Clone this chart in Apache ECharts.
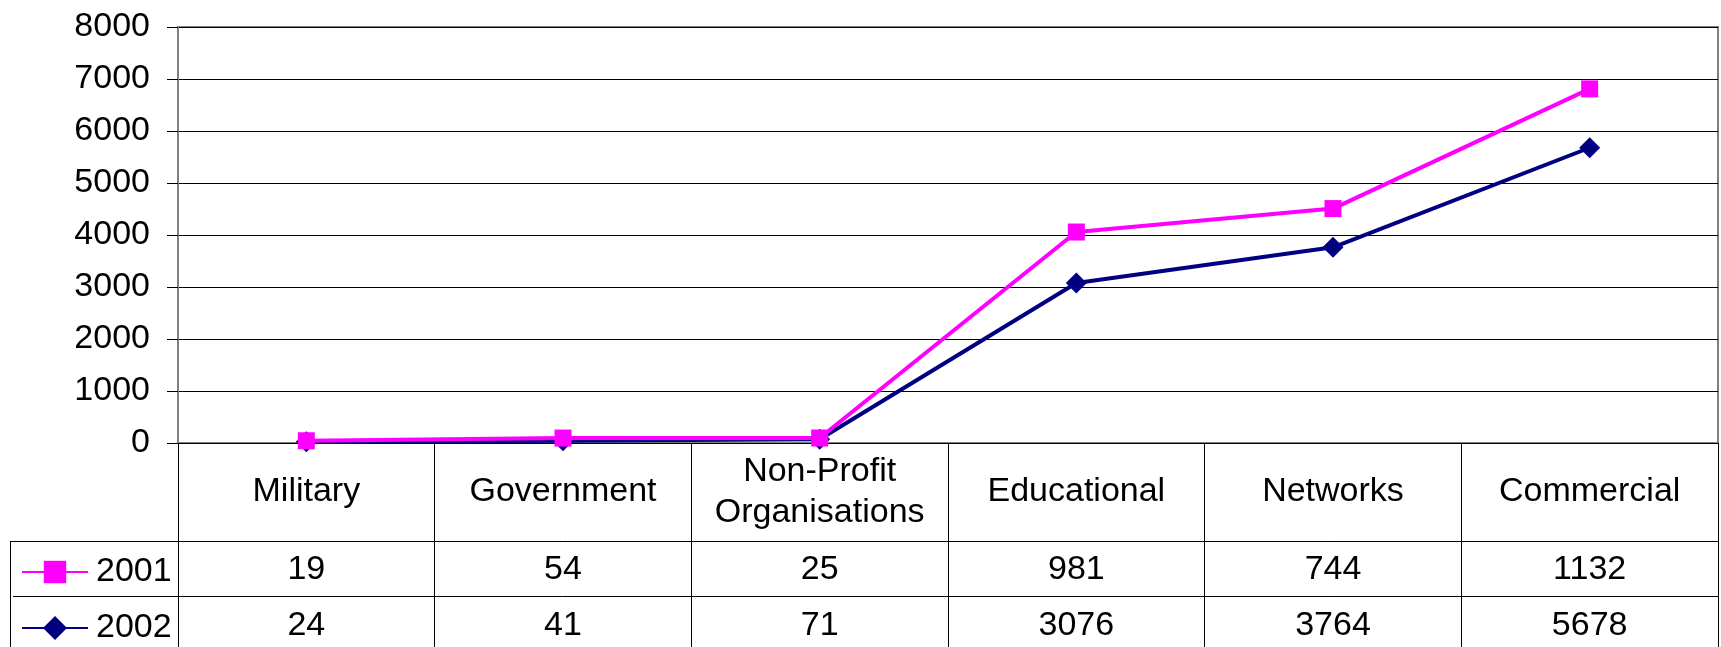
<!DOCTYPE html>
<html>
<head>
<meta charset="utf-8">
<script src="https://cdn.jsdelivr.net/npm/echarts@6/dist/echarts.min.js"></script>
<style>
html,body{margin:0;padding:0;background:#fff;}
#chart{width:1721px;height:647px;}
</style>
</head>
<body>
<div id="chart"></div>
<script>
const categories = ['Military', 'Government', 'Non-Profit\nOrganisations', 'Educational', 'Networks', 'Commercial'];
const values2001 = [19, 54, 25, 981, 744, 1132];
const values2002 = [24, 41, 71, 3076, 3764, 5678];
const yTicks = [0, 1000, 2000, 3000, 4000, 5000, 6000, 7000, 8000];

const FONT = '"Liberation Sans", Arial, sans-serif';
const chart = echarts.init(document.getElementById('chart'), null, {renderer: 'canvas'});

const gridLeft = 178, gridRight = 3, gridTop = 27, gridBottom = 204;
const row1 = 98, row2 = 55;
const H = 647;

function tableAxis(data, offset, tickLen, margin) {
  return {
    type: 'category',
    data: data,
    position: 'bottom',
    offset: offset,
    boundaryGap: true,
    axisLine: {show: true, lineStyle: {color: '#000', width: 1}},
    axisTick: {show: true, length: tickLen, lineStyle: {color: '#000', width: 1}},
    axisLabel: {show: true, color: '#000', fontSize: 34, fontFamily: FONT, margin: margin,
      verticalAlign: 'middle', lineHeight: 41, interval: 0},
    splitLine: {show: false}
  };
}

const legendText = {fontSize: 34, fontFamily: FONT, color: '#000', lineHeight: 36, padding: [0, 0, 0, 3]};

const option = {
  animation: false,
  backgroundColor: '#fff',
  grid: {left: gridLeft, right: gridRight, top: gridTop, bottom: gridBottom,
    show: true, borderColor: '#808080', borderWidth: 2, backgroundColor: 'transparent'},
  legend: [
    {data: ['2001'], left: 21, top: 554, orient: 'vertical', padding: 0,
      itemWidth: 66, itemHeight: 28, itemGap: 0, textStyle: legendText,
      lineStyle: {width: 2}},
    {data: ['2002'], left: 21, top: 610, orient: 'vertical', padding: 0,
      itemWidth: 66, itemHeight: 30, itemGap: 0, textStyle: legendText,
      lineStyle: {width: 2}}
  ],
  xAxis: [
    tableAxis(categories, 0, row1, 49),
    tableAxis(values2001.map(String), row1, row2, 29),
    tableAxis(values2002.map(String), row1 + row2, 60, 30)
  ],
  yAxis: {
    type: 'value', min: yTicks[0], max: yTicks[yTicks.length - 1], interval: 1000,
    axisLine: {show: true, lineStyle: {color: '#808080', width: 2}},
    axisTick: {show: true, length: 11, lineStyle: {color: '#000', width: 1}},
    axisLabel: {color: '#000', fontSize: 34, fontFamily: FONT, margin: 28,
      formatter: function (v) { return String(v); }},
    splitLine: {show: true, lineStyle: {color: '#000', width: 1}}
  },
  series: [
    {name: '2002', type: 'line', stack: 'total', data: values2002, xAxisIndex: 0,
      symbol: 'diamond', symbolSize: 21, showAllSymbol: true,
      lineStyle: {color: '#000080', width: 4}, itemStyle: {color: '#000080'}, z: 2},
    {name: '2001', type: 'line', stack: 'total', data: values2001, xAxisIndex: 0,
      symbol: 'rect', symbolSize: 17, showAllSymbol: true,
      lineStyle: {color: '#FF00FF', width: 4}, itemStyle: {color: '#FF00FF'}, z: 3}
  ]
};
chart.setOption(option);

// Legend column of the data table (extends the table rows to the left)
const x0 = 10;
const yRow1 = H - gridBottom + row1;
const yRow2 = yRow1 + row2;
chart.setOption({
  graphic: [
    {type: 'line', shape: {x1: x0, y1: yRow1 + 0.5, x2: gridLeft, y2: yRow1 + 0.5}, style: {stroke: '#000', lineWidth: 1}},
    {type: 'line', shape: {x1: x0 + 3, y1: yRow2 + 0.5, x2: gridLeft, y2: yRow2 + 0.5}, style: {stroke: '#000', lineWidth: 1}},
    {type: 'line', shape: {x1: x0 + 0.5, y1: yRow1, x2: x0 + 0.5, y2: H}, style: {stroke: '#000', lineWidth: 1}}
  ]
});
</script>
</body>
</html>
